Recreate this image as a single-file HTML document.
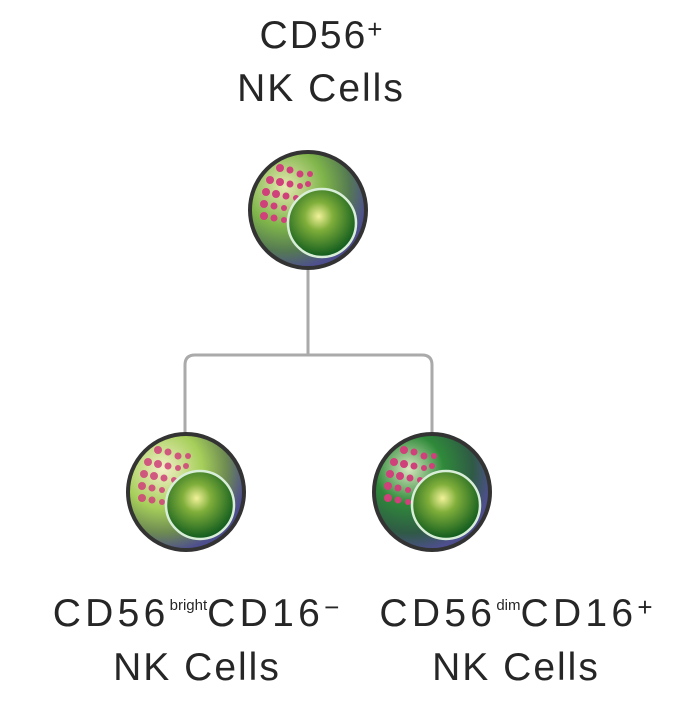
<!DOCTYPE html>
<html><head><style>
body{margin:0;background:#fff;width:681px;height:715px;overflow:hidden;position:relative;font-family:"Liberation Sans",sans-serif;color:#262626}
.t{position:absolute;font-size:39px;letter-spacing:2px;text-align:center;white-space:nowrap;line-height:1}
.w{letter-spacing:4.3px}
sup{font-size:15px;letter-spacing:0;vertical-align:top;position:relative;top:4px}
sup.p{font-size:26px;top:0}
</style></head><body>
<div class="t" style="left:171px;width:300px;top:16px">CD56<sup class="p">+</sup></div>
<div class="t" style="left:171px;width:300px;top:69px">NK Cells</div>
<div class="t w" style="left:-2px;width:396px;top:594px">CD56<sup>bright</sup>CD16<sup class="p">−</sup></div>
<div class="t" style="left:47px;width:300px;top:648px">NK Cells</div>
<div class="t w" style="left:318px;width:396px;top:594px">CD56<sup>dim</sup>CD16<sup class="p">+</sup></div>
<div class="t" style="left:366px;width:300px;top:648px">NK Cells</div>
<svg width="681" height="715" style="position:absolute;left:0;top:0">
<defs>
<radialGradient id="nuc" cx="0.45" cy="0.4" r="0.6"><stop offset="0" stop-color="#f2f29a"/><stop offset="0.35" stop-color="#7fae3a"/><stop offset="1" stop-color="#0f5a1e"/></radialGradient>
<radialGradient id="cyL" cx="0.3" cy="0.3" r="0.85"><stop offset="0" stop-color="#f3f0c8"/><stop offset="0.4" stop-color="#a6cf5a"/><stop offset="0.65" stop-color="#6d8a52"/><stop offset="0.85" stop-color="#4e4f8e"/><stop offset="1" stop-color="#45458a"/></radialGradient>
<radialGradient id="cyT" cx="0.3" cy="0.3" r="0.85"><stop offset="0" stop-color="#e6e8b0"/><stop offset="0.4" stop-color="#7fb54a"/><stop offset="0.65" stop-color="#557a52"/><stop offset="0.85" stop-color="#4e4f8e"/><stop offset="1" stop-color="#45458a"/></radialGradient>
<radialGradient id="cyR" cx="0.3" cy="0.3" r="0.85"><stop offset="0" stop-color="#d8e8c0"/><stop offset="0.35" stop-color="#2f8a3a"/><stop offset="0.65" stop-color="#2f5a45"/><stop offset="0.85" stop-color="#4e4f8e"/><stop offset="1" stop-color="#45458a"/></radialGradient>
<g id="dots" fill="#d0407a">
<circle cx="-28" cy="-42" r="4"/><circle cx="-18" cy="-40" r="3.5"/><circle cx="-8" cy="-36" r="3.5"/><circle cx="2" cy="-36" r="3"/>
<circle cx="-38" cy="-30" r="4"/><circle cx="-28" cy="-28" r="4"/><circle cx="-18" cy="-26" r="3.5"/><circle cx="-8" cy="-24" r="3"/><circle cx="0" cy="-26" r="3"/>
<circle cx="-42" cy="-18" r="4"/><circle cx="-32" cy="-16" r="4"/><circle cx="-22" cy="-14" r="3.5"/><circle cx="-12" cy="-12" r="3"/>
<circle cx="-44" cy="-6" r="4"/><circle cx="-34" cy="-4" r="3.5"/><circle cx="-24" cy="-2" r="3"/>
<circle cx="-44" cy="6" r="4"/><circle cx="-34" cy="8" r="3.5"/><circle cx="-24" cy="10" r="3"/>
</g>
</defs>
<path d="M308 270 V355 M195 355 H422 Q432 355 432 365 V435 M195 355 Q185 355 185 365 V435" stroke="#aaa" stroke-width="3" fill="none"/>
<g transform="translate(308,210)"><circle r="58" fill="url(#cyT)" stroke="#333" stroke-width="4"/><use href="#dots"/><circle cx="14" cy="13" r="34" fill="url(#nuc)" stroke="#d8eed8" stroke-width="2.5"/></g>
<g transform="translate(186,492)"><circle r="58" fill="url(#cyL)" stroke="#333" stroke-width="4"/><use href="#dots" opacity="0.85"/><circle cx="14" cy="13" r="34" fill="url(#nuc)" stroke="#d8eed8" stroke-width="2.5"/></g>
<g transform="translate(432,492)"><circle r="58" fill="url(#cyR)" stroke="#333" stroke-width="4"/><use href="#dots"/><circle cx="14" cy="13" r="34" fill="url(#nuc)" stroke="#d8eed8" stroke-width="2.5"/></g>
</svg>
</body></html>
